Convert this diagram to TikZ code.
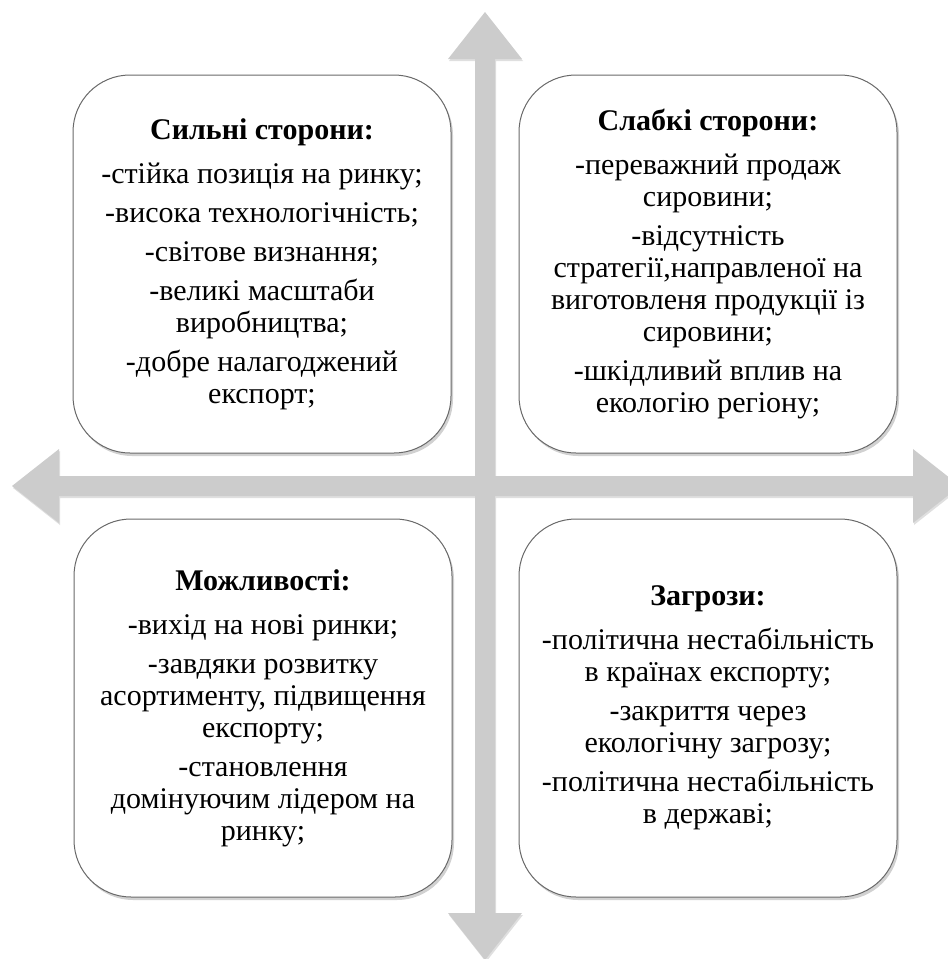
\documentclass[tikz,border=0pt]{standalone}
\usepackage{fontspec}
\setmainfont{Liberation Serif}
\usetikzlibrary{shadows}

\definecolor{arrowgray}{RGB}{204,204,204}
\definecolor{boxline}{RGB}{105,105,105}

\tikzset{
  swotbox/.style={draw=boxline, line width=1pt, fill=white, rounded corners=57pt,
    minimum width=378pt, minimum height=378pt, align=center, inner sep=0pt,
    font=\fontsize{30}{32}\selectfont,
    drop shadow={shadow xshift=2pt, shadow yshift=-3pt, opacity=0.3, fill=black!60}},
  crossarrow/.style={fill=arrowgray,
    drop shadow={shadow xshift=1pt, shadow yshift=-2pt, opacity=0.25, fill=black!50}}
}

\begin{document}
\begin{tikzpicture}[x=1pt,y=-1pt]

%Picture frame
\clip (0,0) rectangle (948,959);

%Arrow sizes
\def\cx{485}
\def\cy{486}
\def\sw{10}
\def\hw{37}
\def\hl{47}
%Gaps between lines
\def\tgap{12pt}
\def\pgap{7pt}

%Drawing the cross of arrows
\fill[crossarrow] (\cx,12) -- (\cx+\hw,12+\hl) -- (\cx+\sw,12+\hl) -- (\cx+\sw,960-\hl)
  -- (\cx+\hw,960-\hl) -- (\cx,960) -- (\cx-\hw,960-\hl) -- (\cx-\sw,960-\hl)
  -- (\cx-\sw,12+\hl) -- (\cx-\hw,12+\hl) -- cycle
  (12,\cy) -- (12+\hl,\cy-\hw) -- (12+\hl,\cy-\sw) -- (960-\hl,\cy-\sw)
  -- (960-\hl,\cy-\hw) -- (960,\cy) -- (960-\hl,\cy+\hw) -- (960-\hl,\cy+\sw)
  -- (12+\hl,\cy+\sw) -- (12+\hl,\cy+\hw) -- cycle;

%Drawing the four boxes
\node[swotbox] (S) at (262,264) {\textbf{Сильні сторони:}\\[\tgap]
  -стійка позиція на ринку;\\[\pgap]
  -висока технологічність;\\[\pgap]
  -світове визнання;\\[\pgap]
  -великі масштаби\\ виробництва;\\[\pgap]
  -добре налагоджений\\ експорт;};
\node[swotbox] (W) at (708,264) {\textbf{Слабкі сторони:}\\[\tgap]
  -переважний продаж\\ сировини;\\[\pgap]
  -відсутність\\ стратегії,направленої на\\ виготовленя продукції із\\ сировини;\\[\pgap]
  -шкідливий вплив на\\ екологію регіону;};
\node[swotbox] (O) at (263,708) {\textbf{Можливості:}\\[\tgap]
  -вихід на нові ринки;\\[\pgap]
  -завдяки розвитку\\ асортименту, підвищення\\ експорту;\\[\pgap]
  -становлення\\ домінуючим лідером на\\ ринку;};
\node[swotbox] (T) at (708,708) {\textbf{Загрози:}\\[\tgap]
  -політична нестабільність\\ в країнах експорту;\\[\pgap]
  -закриття через\\ екологічну загрозу;\\[\pgap]
  -політична нестабільність\\ в державі;};

\end{tikzpicture}
\end{document}
